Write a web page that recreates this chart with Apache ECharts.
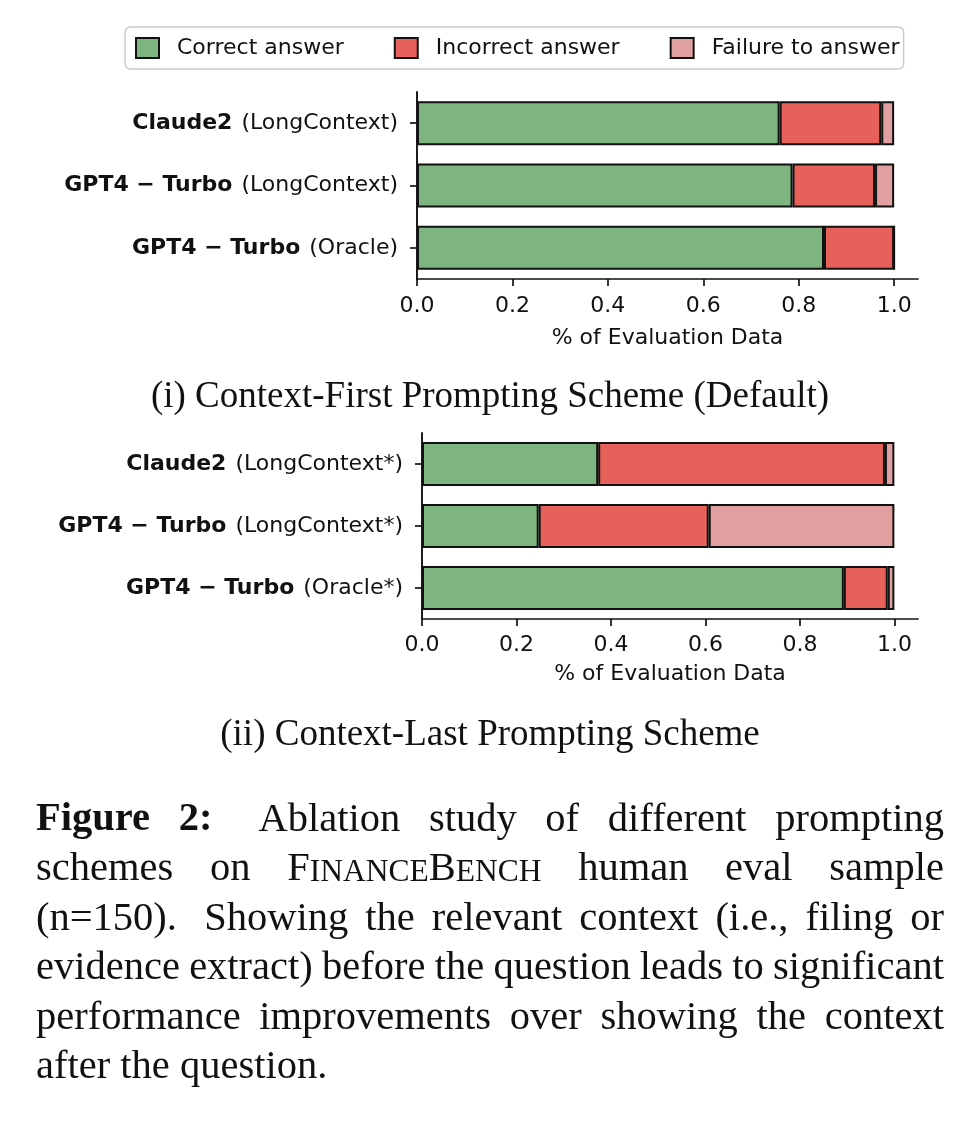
<!DOCTYPE html>
<html><head><meta charset="utf-8">
<script src="https://cdn.jsdelivr.net/npm/echarts@6/dist/echarts.min.js"></script>
<style>html,body{margin:0;padding:0;background:#fff}#c{width:974px;height:1127px}</style>
</head><body><div id="c"></div>
<script>
const seriesNames = ['Correct answer', 'Incorrect answer', 'Failure to answer'];
const categoriesTop = ['Claude2 (LongContext)', 'GPT4 \u2212 Turbo (LongContext)', 'GPT4 \u2212 Turbo (Oracle)'];
const categoriesBottom = ['Claude2 (LongContext*)', 'GPT4 \u2212 Turbo (LongContext*)', 'GPT4 \u2212 Turbo (Oracle*)'];
const correctTop = [0.760, 0.787, 0.853];
const incorrectTop = [0.213, 0.173, 0.147];
const failureTop = [0.027, 0.040, 0.000];
const correctBottom = [0.373, 0.247, 0.893];
const incorrectBottom = [0.607, 0.360, 0.093];
const failureBottom = [0.020, 0.393, 0.014];
const xTickValues = [0, 0.2, 0.4, 0.6, 0.8, 1.0];
const xAxisTitle = '% of Evaluation Data';
const subtitles = ['(i) Context-First Prompting Scheme (Default)', '(ii) Context-Last Prompting Scheme'];
const captionLines = [
  'Figure 2:  Ablation study of different prompting',
  'schemes on FinanceBench human eval sample',
  '(n=150).  Showing the relevant context (i.e., filing or',
  'evidence extract) before the question leads to significant',
  'performance improvements over showing the context',
  'after the question.'
];
const captionBold = ['Figure', '2:'];
const captionSmallCaps = ['FinanceBench'];

const colors = ['#7db47f', '#e8605a', '#dfa09f'];
const INK = '#111111';
const SANS = '"DejaVu Sans", sans-serif';
const SERIF = '"Liberation Serif", "Times New Roman", serif';
const FSZ = 22;

function xAxisCfg(gi, margin, nameGap) {
  return {
    type: 'value', gridIndex: gi, min: 0, max: 1.05,
    axisLine: {show: true, lineStyle: {color: INK, width: 1.7}},
    axisTick: {show: true, length: 7, lineStyle: {color: INK, width: 1.7}, customValues: xTickValues},
    axisLabel: {customValues: xTickValues, formatter: v => Number(v).toFixed(1), fontSize: FSZ, fontFamily: SANS, color: INK, margin: margin},
    splitLine: {show: false},
    name: xAxisTitle, nameLocation: 'middle', nameGap: nameGap,
    nameTextStyle: {fontSize: FSZ, fontFamily: SANS, color: INK}
  };
}
function yAxisCfg(gi, data) {
  return {
    type: 'category', gridIndex: gi, data: data, inverse: true,
    axisLine: {show: true, lineStyle: {color: INK, width: 1.9}},
    axisTick: {show: true, alignWithLabel: true, length: 7, lineStyle: {color: INK, width: 1.7}},
    axisLabel: {
      margin: 19,
      formatter: v => { const i = v.indexOf(' ('); return '{b|' + v.slice(0, i) + '}{s| }{n|' + v.slice(i + 1) + '}'; },
      rich: {
        b: {fontWeight: 'bold', fontSize: FSZ, fontFamily: SANS, color: INK},
        s: {fontSize: FSZ, fontFamily: SANS, color: INK, width: 9},
        n: {fontSize: FSZ, fontFamily: SANS, color: INK}
      }
    }
  };
}
function barSeries(name, data, gi, stack, color) {
  return {
    type: 'bar', name: name, stack: stack, xAxisIndex: gi, yAxisIndex: gi, data: data,
    barWidth: 44, itemStyle: {color: color, borderColor: INK, borderWidth: 2},
    emphasis: {disabled: true}, animation: false
  };
}

function buildCaption() {
  const ctx = document.createElement('canvas').getContext('2d');
  const FS = 40.5, SCS = 31.5;
  const left = 36, right = 944, target = right - left;
  const y0 = 820, step = 49.5;
  const els = [];
  const measure = (t, size, weight) => { ctx.font = weight + ' ' + size + 'px ' + SERIF; return ctx.measureText(t).width; };
  captionLines.forEach((line, li) => {
    const tokens = line.split(/( +)/);
    const words = [], weights = [];
    tokens.forEach(tk => {
      if (!tk) return;
      if (/^ +$/.test(tk)) { weights.push(tk.length > 1 ? 1.6 : 1); }
      else words.push(tk);
    });
    const wordSegs = words.map(w => {
      let segs = [];
      if (captionSmallCaps.indexOf(w) >= 0) {
        const runs = w.match(/[A-Z]+|[a-z]+/g);
        runs.forEach(r => {
          if (r === r.toUpperCase()) segs.push({t: r, size: FS, weight: 'normal'});
          else segs.push({t: r.toUpperCase(), size: SCS, weight: 'normal'});
        });
      } else {
        segs.push({t: w, size: FS, weight: captionBold.indexOf(w) >= 0 ? 'bold' : 'normal'});
      }
      segs.forEach(s => s.w = measure(s.t, s.size, s.weight));
      return segs;
    });
    const wordW = wordSegs.map(s => s.reduce((a, b) => a + b.w, 0));
    const sumW = wordW.reduce((a, b) => a + b, 0);
    const sumG = weights.reduce((a, b) => a + b, 0);
    const justify = li < captionLines.length - 1;
    let sc = 1, gap = FS * 0.25;
    if (justify) {
      const minGap = FS * 0.2;
      gap = (target - sumW) / sumG;
      if (gap < minGap) { gap = minGap; sc = (target - minGap * sumG) / sumW; }
    }
    let x = left;
    const y = y0 + li * step;
    wordSegs.forEach((segs, wi) => {
      segs.forEach(s => {
        els.push({
          type: 'text', x: x, y: s.size === FS ? y : y + (FS - s.size) * 0.34, scaleX: sc, silent: true,
          style: {text: s.t, fontSize: s.size, fontWeight: s.weight, fontFamily: SERIF, fill: INK, align: 'left', verticalAlign: 'middle'}
        });
        x += s.w * sc;
      });
      if (wi < weights.length) x += gap * weights[wi];
    });
  });
  return els;
}

const chart = echarts.init(document.getElementById('c'), null, {renderer: 'canvas'});
const graphics = [
  {type: 'text', x: 490, y: 397, silent: true, style: {text: subtitles[0], fontSize: 37, fontFamily: SERIF, fill: INK, align: 'center', verticalAlign: 'middle'}},
  {type: 'text', x: 490, y: 735, silent: true, style: {text: subtitles[1], fontSize: 37, fontFamily: SERIF, fill: INK, align: 'center', verticalAlign: 'middle'}}
].concat(buildCaption());

chart.setOption({
  animation: false,
  backgroundColor: '#ffffff',
  legend: {
    data: seriesNames, left: 125, top: 27, orient: 'horizontal', icon: 'rect',
    itemWidth: 23, itemHeight: 20, itemGap: 50, selectedMode: false,
    padding: [10, 4, 10, 10], borderColor: '#cccccc', borderWidth: 1.5, borderRadius: 5,
    backgroundColor: '#ffffff',
    textStyle: {fontSize: FSZ, fontFamily: SANS, color: INK, padding: [0, 0, 0, 13]}
  },
  grid: [
    {left: 417, right: 56, top: 92, height: 187},
    {left: 422, right: 56, top: 433, height: 186}
  ],
  xAxis: [xAxisCfg(0, 16, 48), xAxisCfg(1, 15, 44)],
  yAxis: [yAxisCfg(0, categoriesTop), yAxisCfg(1, categoriesBottom)],
  series: [
    barSeries(seriesNames[0], correctTop, 0, 'top', colors[0]),
    barSeries(seriesNames[1], incorrectTop, 0, 'top', colors[1]),
    barSeries(seriesNames[2], failureTop, 0, 'top', colors[2]),
    barSeries(seriesNames[0], correctBottom, 1, 'bottom', colors[0]),
    barSeries(seriesNames[1], incorrectBottom, 1, 'bottom', colors[1]),
    barSeries(seriesNames[2], failureBottom, 1, 'bottom', colors[2])
  ],
  graphic: graphics
});
</script>
</body></html>
